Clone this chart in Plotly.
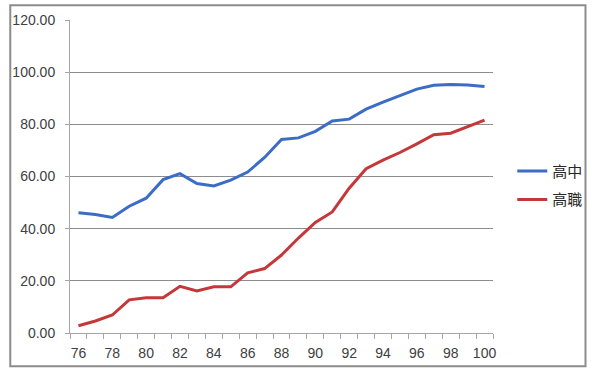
import plotly.graph_objects as go

years = list(range(76, 101))
senior_high = [46.1, 45.4, 44.3, 48.6, 51.7, 58.8, 61.1, 57.3, 56.4, 58.6,
               61.7, 67.3, 74.2, 74.8, 77.3, 81.3, 82.0, 85.8, 88.5, 91.0,
               93.5, 95.0, 95.3, 95.1, 94.5]
vocational = [2.8, 4.6, 6.9, 12.7, 13.5, 13.5, 17.9, 16.1, 17.7, 17.7,
              23.1, 24.7, 29.9, 36.4, 42.4, 46.4, 55.5, 63.0, 66.3, 69.2,
              72.5, 76.0, 76.6, 79.1, 81.6]
series_names = ["高中", "高職"]
x_tick_labels = [str(v) for v in range(76, 101, 2)]
y_ticks = [0, 20, 40, 60, 80, 100, 120]

W, H = 600, 373
L, R, T, B = 63, 98, 16, 36

fig = go.Figure()
fig.add_trace(go.Scatter(x=years, y=senior_high, mode="lines", name=series_names[0],
                         legendgroup="a", line=dict(color="#3B6CC6", width=3)))
fig.add_trace(go.Scatter(x=years, y=vocational, mode="lines", name=series_names[1],
                         legendgroup="b", line=dict(color="#C4383A", width=3)))

pw = W - L - R
ph = H - T - B
fig.add_shape(type="rect", xref="paper", yref="paper",
              x0=(1 - L) / pw, x1=(W - 2 - L) / pw,
              y0=-(H - 2 - T - ph) / ph, y1=1 + (T - 1) / ph,
              line=dict(color="#8c8c8c", width=2), fillcolor="rgba(0,0,0,0)", layer="below")

font_family = "Liberation Sans, Noto Sans CJK TC"
fig.update_layout(
    width=W, height=H,
    margin=dict(l=L, r=R, t=T, b=B),
    paper_bgcolor="white", plot_bgcolor="white",
    font=dict(family=font_family, size=14, color="#404040"),
    xaxis=dict(
        range=[75.5, 100.5],
        tickvals=[int(v) for v in x_tick_labels], ticktext=x_tick_labels,
        ticks="", showgrid=False, zeroline=False,
        showline=True, linecolor="#a6a6a6", linewidth=1,
        minor=dict(tick0=75.5, dtick=1, ticks="outside", ticklen=5,
                   tickcolor="#a6a6a6", showgrid=False),
        ticklabelstandoff=7,
        fixedrange=True,
    ),
    yaxis=dict(
        range=[0, 120], tickvals=y_ticks,
        ticktext=[f"{v:.2f}" for v in y_ticks],
        ticks="outside", ticklen=4, tickcolor="#a6a6a6",
        showgrid=True, gridcolor="#8c8c8c", gridwidth=1,
        zeroline=False, showline=True, linecolor="#a6a6a6", linewidth=1,
        ticklabelstandoff=7,
    ),
    legend=dict(x=(522 - L) / pw, xanchor="left", y=0.472, yanchor="middle",
                font=dict(size=15, color="#262626"), tracegroupgap=6,
                itemwidth=30, bgcolor="rgba(0,0,0,0)"),
    showlegend=True,
)

fig.write_html("out.html", config={"displayModeBar": False},
               post_script="document.body.style.margin='0';document.body.style.padding='0';")
